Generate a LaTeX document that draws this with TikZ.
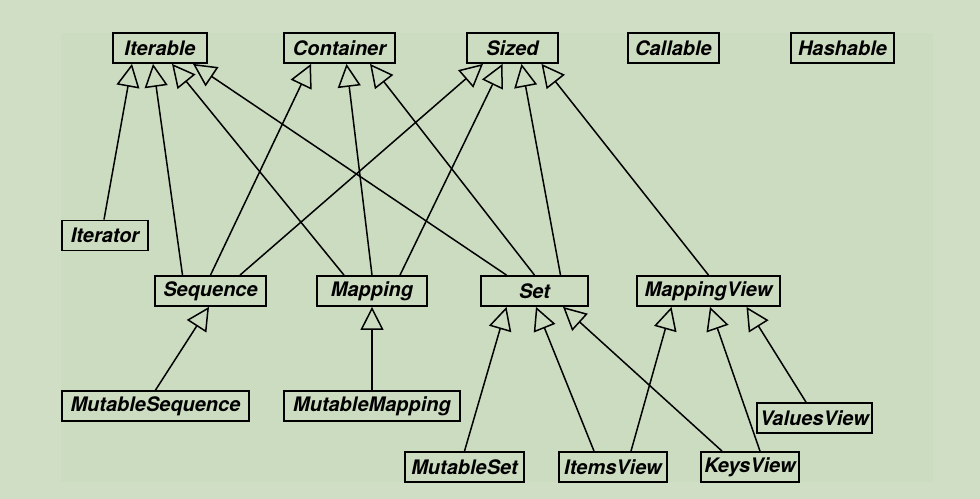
\documentclass[tikz,border=0pt]{standalone}
\usepackage{fontspec}
\setmainfont{TeX Gyre Heros}
\usetikzlibrary{arrows.meta,calc}
\definecolor{bgout}{HTML}{CFDEC4}
\definecolor{bgin}{HTML}{CCDCC1}
\tikzset{
  cls/.style={draw=black, line width=1.8bp, inner sep=0pt, minimum height=30bp,
    font=\fontsize{20bp}{22bp}\selectfont\bfseries\itshape},
  inh/.style={line width=1.5bp, -{Triangle[open, length=23bp, width=23bp, line width=1.5bp]}},
}
\newcommand{\inhedge}[4]{\draw[inh] ($(#1.north)+(#2,0)$) -- ($(#3.south)+(#4,0)$);}
\begin{document}
\begin{tikzpicture}[x=1bp,y=-1bp]
\fill[bgout] (0,0) rectangle (980,499);
\fill[bgin] (61,33) rectangle (933,482);
\useasboundingbox (0,0) rectangle (980,499);
\node[cls, minimum width=94bp]  (Iterable)  at (160,48)   {Iterable};
\node[cls, minimum width=111bp] (Container) at (339.5,48) {Container};
\node[cls, minimum width=91bp]  (Sized)     at (512.5,48) {Sized};
\node[cls, minimum width=91bp]  (Callable)  at (673.5,48) {Callable};
\node[cls, minimum width=103bp] (Hashable)  at (842.5,48) {Hashable};
\node[cls, minimum width=86bp]  (Iterator)  at (105,235.5) {Iterator};
\node[cls, minimum width=111bp] (Sequence)  at (210.5,291) {Sequence};
\node[cls, minimum width=110bp] (Mapping)   at (372,291)   {Mapping};
\node[cls, minimum width=107bp] (Set)       at (534.5,291) {Set};
\node[cls, minimum width=143bp] (MappingView) at (708.5,291) {MappingView};
\node[cls, minimum width=187bp] (MutableSequence) at (155.5,406) {MutableSequence};
\node[cls, minimum width=176bp] (MutableMapping)  at (372,406)   {MutableMapping};
\node[cls, minimum width=115bp] (ValuesView) at (814.5,418) {ValuesView};
\node[cls, minimum width=119bp] (MutableSet) at (464.5,467) {MutableSet};
\node[cls, minimum width=108bp] (ItemsView)  at (613,467)   {ItemsView};
\node[cls, minimum width=98bp]  (KeysView)   at (750,467)   {KeysView};
\inhedge{Iterator}{-1}{Iterable}{-28}
\inhedge{Sequence}{-28}{Iterable}{-7}
\inhedge{Sequence}{0}{Container}{-28.5}
\inhedge{Sequence}{29.5}{Sized}{-29.5}
\inhedge{Mapping}{-28}{Iterable}{12}
\inhedge{Mapping}{0}{Container}{7}
\inhedge{Mapping}{28}{Sized}{-10}
\inhedge{Set}{-28}{Iterable}{33}
\inhedge{Set}{0}{Container}{30.5}
\inhedge{Set}{26}{Sized}{9}
\inhedge{MappingView}{0}{Sized}{29}
\inhedge{MutableSequence}{0}{Sequence}{-1.5}
\inhedge{MutableMapping}{0}{Mapping}{0}
\inhedge{MutableSet}{0}{Set}{-28}
\inhedge{ItemsView}{-19}{Set}{1.5}
\inhedge{KeysView}{-28}{Set}{28.5}
\inhedge{ItemsView}{18}{MappingView}{-37}
\inhedge{KeysView}{10}{MappingView}{1.5}
\inhedge{ValuesView}{-8.5}{MappingView}{38}
\end{tikzpicture}
\end{document}
